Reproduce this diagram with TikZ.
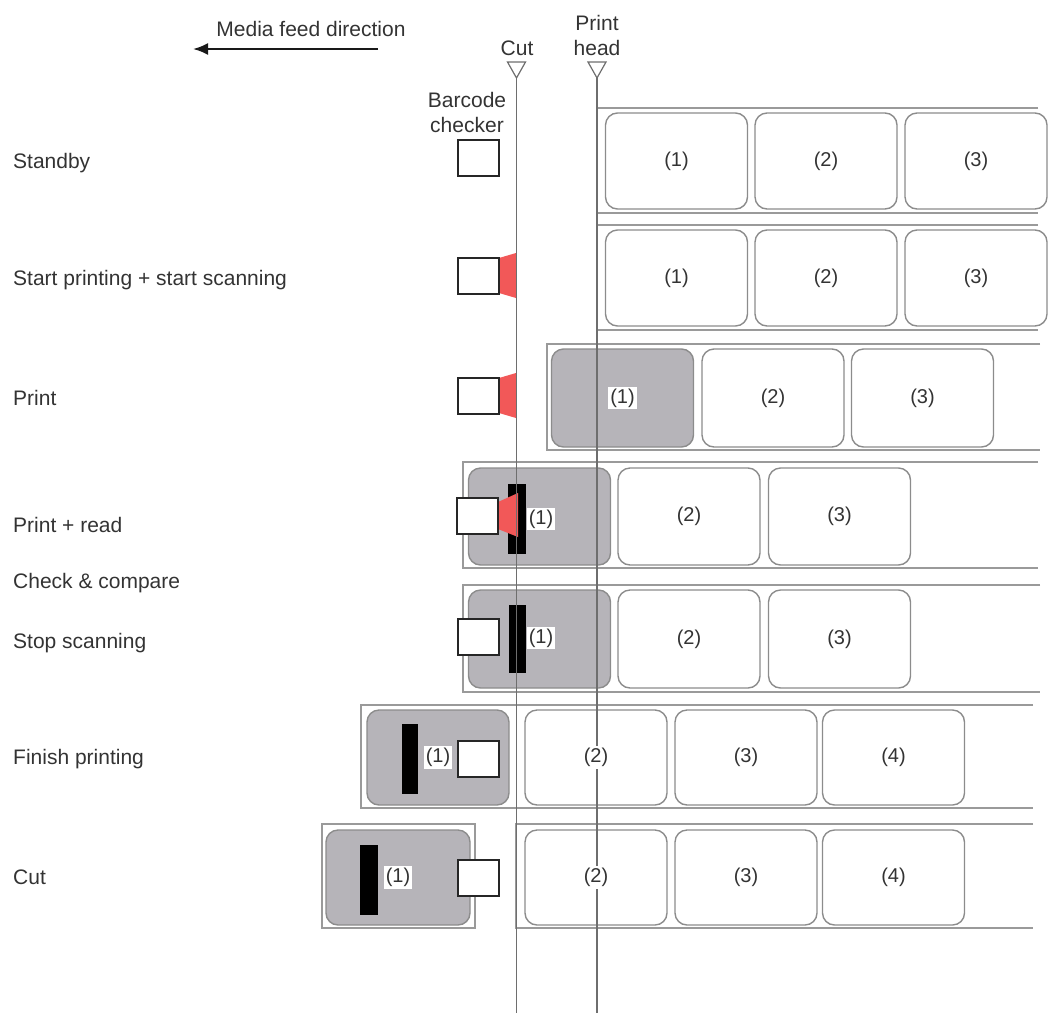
\documentclass[tikz,border=0pt]{standalone}
\usepackage{fontspec}
\setmainfont{Liberation Sans}
\usetikzlibrary{arrows.meta}
\definecolor{txt}{HTML}{333333}
\definecolor{stripc}{HTML}{9A9A9A}
\definecolor{boxc}{HTML}{8C8C8C}
\definecolor{grayfill}{HTML}{B6B4B9}
\definecolor{beamc}{HTML}{F25858}
\definecolor{vline}{HTML}{6E6E6E}
\begin{document}
\begin{tikzpicture}[x=1pt,y=-1pt,
 stripline/.style={draw=stripc, line width=1.3pt},
 lbl/.style={draw=boxc, line width=1.4pt, rounded corners=12pt, fill=white, minimum width=142pt, minimum height=96pt, inner sep=0pt},
 glbl/.style={lbl, fill=grayfill},
 num/.style={fill=white, inner sep=2pt, text=txt, font=\fontsize{20}{24}\selectfont},
 chk/.style={draw=black!85, line width=2pt, fill=white, minimum width=41pt, minimum height=36pt, inner sep=0pt},
 barc/.style={fill=black},
 beam/.style={fill=beamc},
 guide/.style={draw=vline, line width=1.2pt},
 tri/.style={draw=vline, line width=1.2pt, fill=white},
 lab/.style={text=txt, font=\fontsize{21}{25}\selectfont, inner sep=0pt, anchor=base west},
 headlab/.style={text=txt, font=\fontsize{21}{25}\selectfont, inner sep=0pt, anchor=base}
]
\useasboundingbox (0,0) rectangle (1056,1020);

% ---- strips (liner) ----
\draw[stripline] (1038,108) -- (597,108) -- (597,213) -- (1038,213);
\draw[stripline] (1038,225) -- (597,225) -- (597,330) -- (1038,330);
\draw[stripline] (1040,344) -- (547,344) -- (547,450) -- (1040,450);
\draw[stripline] (1038,462) -- (463,462) -- (463,568) -- (1038,568);
\draw[stripline] (1040,585) -- (463,585) -- (463,692) -- (1040,692);
\draw[stripline] (1033,705) -- (361,705) -- (361,808) -- (1033,808);
\draw[stripline] (322,824) rectangle (475,928);
\draw[stripline] (1033,824) -- (516,824) -- (516,928) -- (1033,928);

% ---- labels ----
% row 1
\node[lbl] (r1b1) at (676.5,161) {};
\node[lbl] (r1b2) at (826,161) {};
\node[lbl] (r1b3) at (976,161) {};
% row 2
\node[lbl] (r2b1) at (676.5,278) {};
\node[lbl] (r2b2) at (826,278) {};
\node[lbl] (r2b3) at (976,278) {};
% row 3
\node[glbl, minimum height=98pt] (r3b1) at (622.5,398) {};
\node[lbl, minimum height=98pt] (r3b2) at (773,398) {};
\node[lbl, minimum height=98pt] (r3b3) at (922.5,398) {};
% row 4
\node[glbl, minimum height=97pt] (r4b1) at (539.5,516.5) {};
\node[lbl, minimum height=97pt] (r4b2) at (689,516.5) {};
\node[lbl, minimum height=97pt] (r4b3) at (839.5,516.5) {};
% row 5
\node[glbl, minimum height=98pt] (r5b1) at (539.5,639) {};
\node[lbl, minimum height=98pt] (r5b2) at (689,639) {};
\node[lbl, minimum height=98pt] (r5b3) at (839.5,639) {};
% row 6
\node[glbl, minimum height=95pt] (r6b1) at (438,757.5) {};
\node[lbl, minimum height=95pt] (r6b2) at (596,757.5) {};
\node[lbl, minimum height=95pt] (r6b3) at (746,757.5) {};
\node[lbl, minimum height=95pt] (r6b4) at (893.5,757.5) {};
% row 7
\node[glbl, minimum width=144pt, minimum height=95pt] (r7b1) at (398,877.5) {};
\node[lbl, minimum height=95pt] (r7b2) at (596,877.5) {};
\node[lbl, minimum height=95pt] (r7b3) at (746,877.5) {};
\node[lbl, minimum height=95pt] (r7b4) at (893.5,877.5) {};

% ---- printed barcodes ----
\fill[barc] (508,484) rectangle (526,554);
\fill[barc] (509,605) rectangle (526,673);
\fill[barc] (402,724) rectangle (418,794);
\fill[barc] (360,845) rectangle (378,915);

% ---- scanning beams ----
\fill[beam] (499,258) -- (516,253) -- (516,298) -- (499,293) -- cycle;
\fill[beam] (499,378) -- (516,373) -- (516,418) -- (499,413) -- cycle;
\fill[beam] (498,502) -- (518,493) -- (518,537) -- (498,529) -- cycle;

% ---- barcode checkers ----
\node[chk] (c1) at (478,157.5) {};
\node[chk] (c2) at (478.5,275.5) {};
\node[chk] (c3) at (478.5,395.5) {};
\node[chk] (c4) at (477.5,515.5) {};
\node[chk] (c5) at (478,636.5) {};
\node[chk] (c6) at (478.5,758.5) {};
\node[chk] (c7) at (478.5,877.5) {};

% ---- cut and print head guides ----
\coordinate (cuttip) at (516.5,78);
\coordinate (cutend) at (516.5,1013);
\coordinate (phtip) at (597,78);
\coordinate (phend) at (597,1013);
\draw[guide] (cuttip) -- (cutend);
\draw[guide] (phtip) -- (phend);
\draw[tri] (507.5,62) -- (525.5,62) -- (cuttip) -- cycle;
\draw[tri] (588,62) -- (606,62) -- (phtip) -- cycle;

% ---- numbers ----
\foreach \n/\t in {r1b1/(1),r1b2/(2),r1b3/(3),r2b1/(1),r2b2/(2),r2b3/(3),
                   r3b1/(1),r3b2/(2),r3b3/(3),r4b2/(2),r4b3/(3),r5b2/(2),r5b3/(3),
                   r6b1/(1),r6b2/(2),r6b3/(3),r6b4/(4),r7b1/(1),r7b2/(2),r7b3/(3),r7b4/(4)}
  \node[num] at (\n) {\t};
\node[num] (n4) at (541,519) {(1)};
\node[num] (n5) at (541,638) {(1)};

% ---- headings ----
\node[headlab] (mfd) at (311,36) {Media feed direction};
\coordinate (arrfrom) at (378,49);
\coordinate (arrto) at (193,49);
\draw[line width=2.2pt, black!90, -{Latex[length=15pt,width=12pt]}] (arrfrom) -- (arrto);
\node[headlab] (cutlab) at (517,55) {Cut};
\node[headlab] (ph1) at (597,30) {Print};
\node[headlab] (ph2) at (597,55) {head};
\node[headlab] (bc1) at (467,107) {Barcode};
\node[headlab] (bc2) at (467,132) {checker};

% ---- step labels ----
\node[lab] (s1) at (13,168) {Standby};
\node[lab] (s2) at (13,285) {Start printing + start scanning};
\node[lab] (s3) at (13,405) {Print};
\node[lab] (s4) at (13,532) {Print + read};
\node[lab] (s5) at (13,588) {Check \& compare};
\node[lab] (s6) at (13,648) {Stop scanning};
\node[lab] (s7) at (13,764) {Finish printing};
\node[lab] (s8) at (13,884) {Cut};
\end{tikzpicture}
\end{document}
